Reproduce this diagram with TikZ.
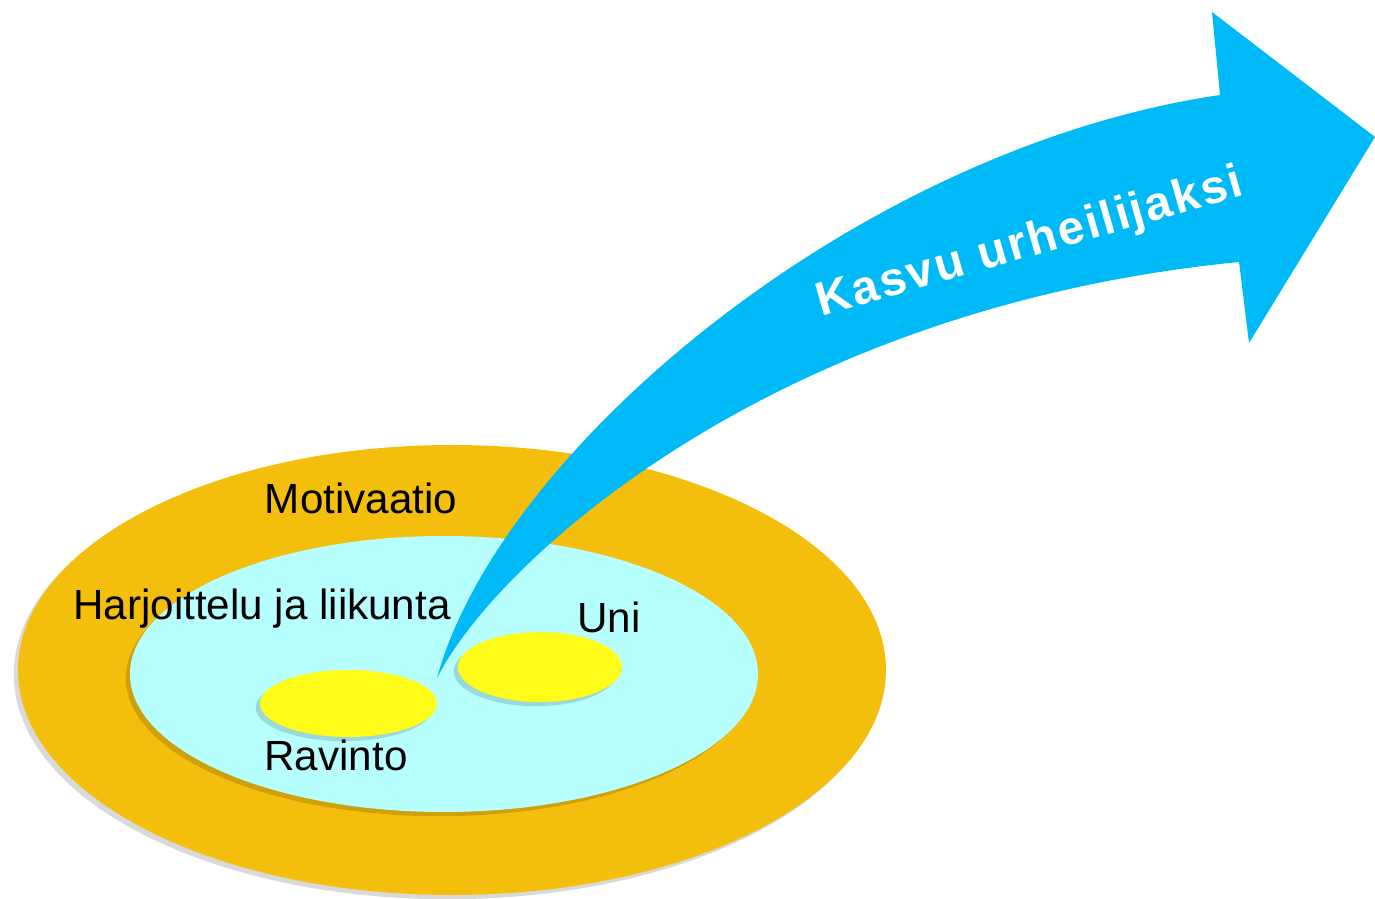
\documentclass[tikz,border=0pt]{standalone}
\usepackage{fontspec}
\setmainfont{Liberation Sans}
\newfontfamily\arrowfont[LetterSpace=5]{Liberation Sans}
\usetikzlibrary{shapes.geometric,shadows}
\definecolor{ringorange}{RGB}{243,190,12}
\definecolor{innercyan}{RGB}{183,255,255}
\definecolor{dotyellow}{RGB}{255,252,25}
\definecolor{arrowblue}{RGB}{0,186,247}
\tikzset{
  disc/.style={ellipse,inner sep=0pt,draw=none},
  softshadow/.style={drop shadow={shadow xshift=-1.2pt,shadow yshift=-1.2pt,opacity=0.15,fill=black}},
  lbl/.style={anchor=base,font=\fontsize{12}{14}\selectfont,text=black},
}
\begin{document}
\begin{tikzpicture}
    \useasboundingbox (0,0) rectangle (13.75,8.98);
    \node[disc,fill=ringorange,softshadow,minimum width=8.68cm,minimum height=4.5cm] (motivaatio) at (4.52,2.28) {};
    \node[disc,fill=innercyan,softshadow,minimum width=6.28cm,minimum height=2.76cm] (harjoittelu) at (4.44,2.24) {};
    \node[disc,fill=dotyellow,softshadow,minimum width=1.77cm,minimum height=0.67cm] (ravinto) at (3.485,1.945) {};
    \node[disc,fill=dotyellow,softshadow,minimum width=1.64cm,minimum height=0.70cm] (uni) at (5.40,2.31) {};
    \coordinate (tail) at (4.37,2.20);
    \coordinate (headtop) at (12.12,8.86);
    \coordinate (tip) at (13.75,7.61);
    \coordinate (headbot) at (12.49,5.55);
    \fill[arrowblue] (tail) .. controls (5.0,4.5) and (8.6,7.5) .. (12.20,8.03)
      -- (headtop) -- (tip) -- (headbot) -- (12.39,6.36)
      .. controls (7.7,5.9) and (4.95,3.35) .. (tail) -- cycle;
    \node[rotate=16,text=white,font=\arrowfont\bfseries\fontsize{13.5}{16}\selectfont] (kasvu) at (10.30,6.54) {Kasvu urheilijaksi};
    \node[lbl] (motivaatiolbl) at (3.61,3.84) {Motivaatio};
    \node[lbl] (harjoittelulbl) at (2.62,2.78) {Harjoittelu ja liikunta};
    \node[lbl] (unilbl) at (6.09,2.65) {Uni};
    \node[lbl] (ravintolbl) at (3.36,1.27) {Ravinto};
\end{tikzpicture}
\end{document}
